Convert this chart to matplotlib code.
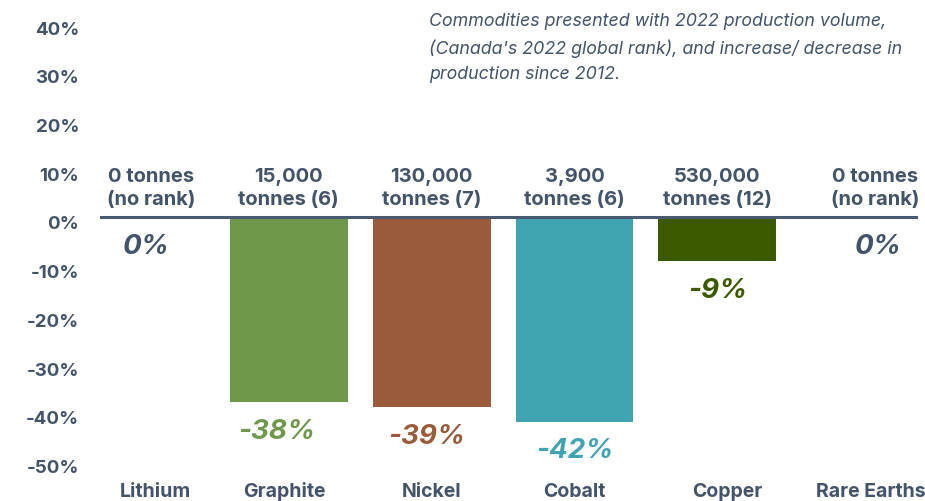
import matplotlib
matplotlib.use("Agg")
import matplotlib.pyplot as plt
import matplotlib.transforms as mtransforms

# production change 2012 -> 2022, percent
commodities = ["Lithium", "Graphite", "Nickel", "Cobalt", "Copper", "Rare Earths"]
change_pct = [0, -38, -39, -42, -9, 0]
volume_labels = ["0 tonnes\n(no rank)", "15,000\ntonnes (6)", "130,000\ntonnes (7)",
                 "3,900\ntonnes (6)", "530,000\ntonnes (12)", "0 tonnes\n(no rank)"]
bar_colors = ["#435369", "#6f984c", "#9a5b3c", "#3fa3b2", "#3b5a00", "#435369"]
yticks = [40, 30, 20, 10, 0, -10, -20, -30, -40, -50]

# small horizontal nudges for the text rows (in category units)
name_dx = [0.07, -0.03, 0, 0, 0.07, 0.07]
vol_dx = [0.04, 0, 0, 0, 0, 0.1]
val_dx = [0, -0.08, -0.03, 0, 0, 0.12]

SLATE = "#435369"
plt.rcParams["font.family"] = ["Inter", "DejaVu Sans"]

fig = plt.figure(figsize=(9.25, 5.02), dpi=100)
ax = fig.add_axes([0.108, 0.0, 0.884, 1.0])

x = list(range(len(commodities)))
ax.bar(x, change_pct, width=0.825, color=bar_colors, zorder=2)
ax.set_xlim(-0.32, 5.4)
ax.set_ylim(-58.3, 44.8)
ax.axhline(0, color="#4a5a70", linewidth=2.2, zorder=3)

for spine in ax.spines.values():
    spine.set_visible(False)
ax.set_xticks([])
ax.set_yticks(yticks)
ax.set_yticklabels([f"{t}%" for t in yticks])
ax.tick_params(axis="y", length=0, pad=15, labelsize=13.5, labelcolor=SLATE)
shift = mtransforms.ScaledTranslation(0, -3.5 / 72, fig.dpi_scale_trans)
for lbl in ax.get_yticklabels():
    lbl.set_fontweight("bold")
    lbl.set_transform(lbl.get_transform() + shift)

for i, (name, val, vol, col) in enumerate(zip(commodities, change_pct, volume_labels, bar_colors)):
    # category name along the bottom
    ax.text(i + name_dx[i], -56.2, name, ha="center", va="center",
            fontsize=14, fontweight="bold", color=SLATE)
    # volume / rank above the zero line
    ax.text(i + vol_dx[i], 1.9, vol, ha="center", va="bottom", fontsize=14.5,
            fontweight="bold", color=SLATE, linespacing=1.35)
    # percent change under each bar
    ax.text(i + val_dx[i], val - 3.2, f"{val}%", ha="center", va="top", fontsize=20,
            fontweight="bold", fontstyle="italic", color=col)

fig.text(0.464, 0.974,
         "Commodities presented with 2022 production volume,\n"
         "(Canada's 2022 global rank), and increase/ decrease in\n"
         "production since 2012.",
         ha="left", va="top", fontsize=12.8, fontstyle="italic", color=SLATE,
         linespacing=1.65)

fig.savefig("out.png", dpi=100)
